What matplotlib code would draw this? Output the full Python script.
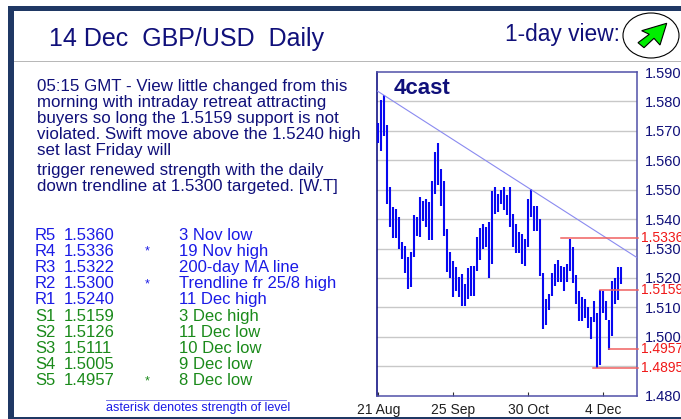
import numpy as np
import matplotlib
matplotlib.use("Agg")
import matplotlib.pyplot as plt
from matplotlib.patches import Ellipse, Polygon, Rectangle

W, H = 681, 419

highs = [1.5725, 1.5805, 1.5822, 1.5720, 1.5508, 1.5442, 1.5436, 1.5408, 1.5324, 1.5310,
         1.5273, 1.5288, 1.5414, 1.5406, 1.5476, 1.5462, 1.5470, 1.5457, 1.5530, 1.5627,
         1.5660, 1.5569, 1.5529, 1.5366, 1.5288, 1.5257, 1.5239, 1.5202, 1.5214, 1.5178,
         1.5234, 1.5242, 1.5242, 1.5339, 1.5371, 1.5385, 1.5374, 1.5389, 1.5495, 1.5508,
         1.5487, 1.5499, 1.5508, 1.5482, 1.5508, 1.5419, 1.5383, 1.5357, 1.5348, 1.5332,
         1.5468, 1.5501, 1.5445, 1.5445, 1.5402, 1.5216, 1.5127, 1.5144, 1.5216, 1.5246,
         1.5262, 1.5242, 1.5236, 1.5248, 1.5333, 1.5307, 1.5210, 1.5155, 1.5134, 1.5128,
         1.5103, 1.5069, 1.5123, 1.5080, 1.5159, 1.5155, 1.5123, 1.5057, 1.5191, 1.5200,
         1.5239, 1.5239]
lows = [1.5660, 1.5632, 1.5682, 1.5453, 1.5372, 1.5336, 1.5336, 1.5300, 1.5265, 1.5217,
        1.5163, 1.5168, 1.5270, 1.5344, 1.5339, 1.5395, 1.5374, 1.5330, 1.5330, 1.5487,
        1.5516, 1.5445, 1.5341, 1.5220, 1.5199, 1.5134, 1.5157, 1.5134, 1.5104, 1.5106,
        1.5127, 1.5138, 1.5138, 1.5223, 1.5261, 1.5300, 1.5305, 1.5199, 1.5248, 1.5416,
        1.5425, 1.5453, 1.5431, 1.5414, 1.5374, 1.5307, 1.5284, 1.5284, 1.5248, 1.5242,
        1.5307, 1.5408, 1.5360, 1.5360, 1.5206, 1.5027, 1.5039, 1.5091, 1.5140, 1.5174,
        1.5185, 1.5185, 1.5155, 1.5185, 1.5225, 1.5182, 1.5110, 1.5053, 1.5055, 1.5064,
        1.5030, 1.4993, 1.5049, 1.4894, 1.4905, 1.5080, 1.5057, 1.4956, 1.5004, 1.5110,
        1.5126, 1.5178]

y_ticks = [1.59, 1.58, 1.57, 1.56, 1.55, 1.54, 1.53, 1.52, 1.51, 1.50, 1.48]
y_labels = ["1.5900", "1.5800", "1.5700", "1.5600", "1.5500", "1.5400", "1.5300",
            "1.5200", "1.5100", "1.5000", "1.4800"]
grid_levels = [1.58, 1.57, 1.56, 1.55, 1.54, 1.53, 1.52, 1.51, 1.50, 1.49]
x_ticks = [0, 25, 50, 75]
x_labels = ["21 Aug", "25 Sep", "30 Oct", "4 Dec"]

red_levels = [1.5336, 1.5159, 1.4957, 1.4895]
red_starts = [61, 74, 77, 71.5]
red_labels = ["1.5336", "1.5159", "1.4957", "1.4895"]
trend_x = [-0.3, 86.1]
trend_y = [1.5835, 1.5270]

note_lines = ["05:15 GMT - View little changed from this",
              "morning with intraday retreat attracting",
              "buyers so long the 1.5159 support is not",
              "violated. Swift move above the 1.5240 high",
              "set last Friday will"]
note_lines2 = ["trigger renewed strength with the daily",
               "down trendline at 1.5300 targeted. [W.T]"]

res_names = ["R5", "R4", "R3", "R2", "R1"]
res_vals = ["1.5360", "1.5336", "1.5322", "1.5300", "1.5240"]
res_stars = ["", "*", "", "*", ""]
res_notes = ["3 Nov low", "19 Nov high", "200-day MA line", "Trendline fr 25/8 high", "11 Dec high"]
sup_names = ["S1", "S2", "S3", "S4", "S5"]
sup_vals = ["1.5159", "1.5126", "1.5111", "1.5005", "1.4957"]
sup_stars = ["", "", "", "", "*"]
sup_notes = ["3 Dec high", "11 Dec low", "10 Dec low", "9 Dec low", "8 Dec low"]

NAVY = "#1f3864"
TEXT_NAVY = "#10107a"
BLUE = "#1a1ae6"
GREEN = "#1a8a1a"
RED = "#f01818"

plt.rcParams["font.family"] = ["Liberation Sans", "DejaVu Sans"]

fig = plt.figure(figsize=(W / 100, H / 100), dpi=100)
bg = fig.add_axes([0, 0, 1, 1])
bg.set_xlim(0, W)
bg.set_ylim(H, 0)
bg.axis("off")

# page frame
bg.add_patch(Rectangle((8, 5.7), W - 8, 5.3, color=NAVY, lw=0))
bg.add_patch(Rectangle((8, 7), 6.2, H - 7, color=NAVY, lw=0))
bg.add_patch(Rectangle((14, 417.4), W - 14, 1.6, color=NAVY, lw=0))
bg.add_patch(Rectangle((14, 60.6), W - 14, 1, color="#b8b8b8", lw=0))

bg.text(49, 39, "14 Dec  GBP/USD  Daily", fontsize=18, color=TEXT_NAVY, va="center")
bg.text(505, 35, "1-day view:", fontsize=16.4, color=TEXT_NAVY, va="center")
bg.add_patch(Ellipse((651, 35.5), 56, 45, fc="white", ec="black", lw=0.8))
bg.add_patch(Polygon([(666.7, 23.3), (660, 45), (654, 38.3), (644, 47.7), (638, 42.7),
                      (649.3, 34.3), (641.7, 30.7)],
                     closed=True, fc="#00ee00", ec="black", lw=0.8))

for i, line in enumerate(note_lines):
    bg.text(37, 86 + i * 16, line, fontsize=12.2, color=TEXT_NAVY, va="center")
for i, line in enumerate(note_lines2):
    bg.text(37, 170 + i * 16, line, fontsize=12.2, color=TEXT_NAVY, va="center")

rows = [(res_names, res_vals, res_stars, res_notes, BLUE, 235),
        (sup_names, sup_vals, sup_stars, sup_notes, GREEN, 316)]
for names, vals, stars, notes, col, y0 in rows:
    for i in range(5):
        y = y0 + i * 16.2
        bg.text(35, y, names[i], fontsize=12, color=col, va="center")
        bg.text(64, y, vals[i], fontsize=12, color=col, va="center")
        bg.text(147, y + 0.5, stars[i], fontsize=9, color=col, ha="center", va="center")
        bg.text(179, y, notes[i], fontsize=12, color=col, va="center")

bg.plot([106, 286], [399.5, 399.5], color="#7a7ae8", lw=0.7)
bg.text(106, 408, "asterisk denotes strength of level", fontsize=9, color=BLUE, va="center")

# chart panel
left, right, top, bottom = 377.4, 636.7, 72, 395.7
ax = fig.add_axes([left / W, 1 - bottom / H, (right - left) / W, (bottom - top) / H])
ax.set_xlim(-0.34, 86.1)
ax.set_ylim(1.48, 1.59)
for level in grid_levels:
    ax.axhline(level, color="#c8c8c8", lw=1.0, zorder=1)

x = np.arange(len(highs))
ax.vlines(x, lows, highs, color="#0808f0", lw=1.5, zorder=3)
ax.plot(trend_x, trend_y, color="#8a8af0", lw=0.8, zorder=4)

ax.set_yticks(y_ticks)
ax.set_yticklabels(y_labels, fontsize=10.5, color=TEXT_NAVY)
ax.yaxis.tick_right()
ax.tick_params(axis="y", length=0, pad=6)
ax.set_xticks(x_ticks)
ax.set_xticklabels(x_labels, fontsize=10, color="#202020")
ax.tick_params(axis="x", length=3, direction="in", pad=5, color="#303030", width=0.8)
for name, spine in ax.spines.items():
    spine.set_color("#00007a" if name == "left" else "#5050a8")
    spine.set_linewidth(1.1)

for level, start, label in zip(red_levels, red_starts, red_labels):
    ax.plot([start, 86.6], [level, level], color="#f06060", lw=1.1, zorder=5, clip_on=False)
    ax.annotate(label, (86.1, level), xytext=(3.2, 0), textcoords="offset points",
                fontsize=10, color=RED, va="center", annotation_clip=False)

ax.text(5.2, 1.5845, "4cast", fontsize=16, fontweight="bold", color=TEXT_NAVY, va="center")

fig.savefig("out.png", dpi=100)
